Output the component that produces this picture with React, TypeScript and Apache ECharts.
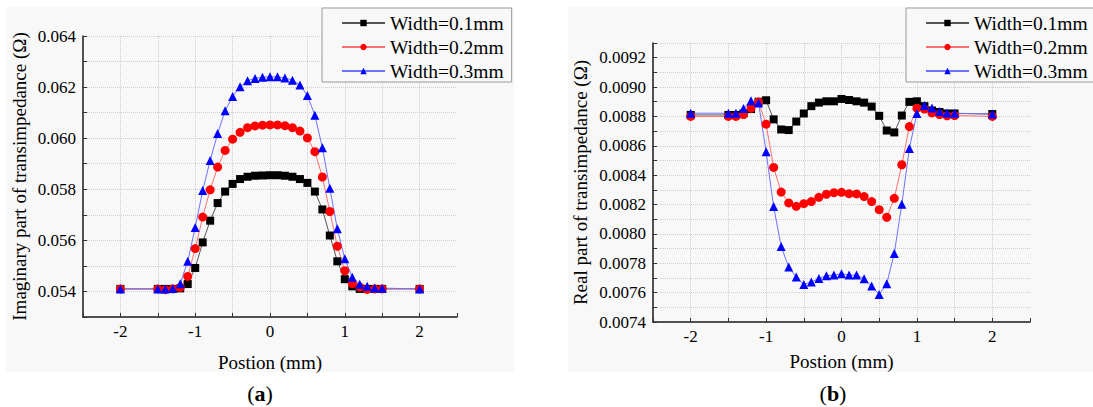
import React, { useEffect, useRef } from "react";
import * as echarts from "echarts";

const FONT = "'Liberation Serif', 'Times New Roman', serif";

const positions = [-2, -1.5, -1.4, -1.3, -1.2, -1.1, -1.0, -0.9, -0.8, -0.7, -0.6, -0.5, -0.4, -0.3, -0.2, -0.1, 0, 0.1, 0.2, 0.3, 0.4, 0.5, 0.6, 0.7, 0.8, 0.9, 1.0, 1.1, 1.2, 1.3, 1.4, 1.5, 2];

const seriesNames = ["Width=0.1mm", "Width=0.2mm", "Width=0.3mm"];

const imag01 = [0.0541, 0.0541, 0.0541, 0.0541, 0.05412, 0.05429, 0.05492, 0.05592, 0.05677, 0.05746, 0.05791, 0.05821, 0.0584, 0.05849, 0.05853, 0.05854, 0.05855, 0.05855, 0.05853, 0.05849, 0.0584, 0.05825, 0.05791, 0.05721, 0.05619, 0.05518, 0.05448, 0.0542, 0.0541, 0.0541, 0.0541, 0.0541, 0.0541];
const imag02 = [0.0541, 0.0541, 0.05407, 0.0541, 0.05416, 0.05459, 0.05568, 0.05691, 0.05798, 0.05887, 0.05952, 0.05996, 0.06023, 0.06041, 0.06048, 0.06051, 0.06052, 0.06052, 0.06049, 0.06041, 0.06028, 0.06001, 0.05947, 0.05848, 0.05713, 0.05577, 0.05481, 0.05431, 0.05417, 0.05408, 0.0541, 0.0541, 0.0541];
const imag03 = [0.0541, 0.0541, 0.0541, 0.05412, 0.0543, 0.05518, 0.0565, 0.05795, 0.05913, 0.06018, 0.06107, 0.06163, 0.06201, 0.06225, 0.06234, 0.06239, 0.0624, 0.0624, 0.06236, 0.06227, 0.06208, 0.06167, 0.0609, 0.05963, 0.05804, 0.05645, 0.05528, 0.05456, 0.05428, 0.0542, 0.05414, 0.05413, 0.0541];

const real01 = [0.00881, 0.00881, 0.00881, 0.00882, 0.00885, 0.0089, 0.00891, 0.00878, 0.008711, 0.008707, 0.008765, 0.00882, 0.00887, 0.008894, 0.008903, 0.008903, 0.008919, 0.008912, 0.008903, 0.008894, 0.008867, 0.008804, 0.008704, 0.008691, 0.008806, 0.008899, 0.008903, 0.00887, 0.00884, 0.00883, 0.00882, 0.00882, 0.008816];
const real02 = [0.0088, 0.0088, 0.0088, 0.008813, 0.008856, 0.008899, 0.008747, 0.008453, 0.008285, 0.008211, 0.008188, 0.008206, 0.00822, 0.008249, 0.00827, 0.008281, 0.008283, 0.008274, 0.008272, 0.008254, 0.00822, 0.008165, 0.008113, 0.008242, 0.008471, 0.008731, 0.008856, 0.00885, 0.008824, 0.008813, 0.008804, 0.008806, 0.0088];
const real03 = [0.008822, 0.008822, 0.008822, 0.008854, 0.008906, 0.008892, 0.008559, 0.008186, 0.007914, 0.007774, 0.007706, 0.007656, 0.007672, 0.007697, 0.007715, 0.00772, 0.007728, 0.00772, 0.00772, 0.007695, 0.007645, 0.007588, 0.00766, 0.007867, 0.008202, 0.008582, 0.00882, 0.008874, 0.008858, 0.008833, 0.008824, 0.008822, 0.008816];

const markerColors = ["#000000", "#ff0000", "#0000ff"];
const lineColors = ["#555555", "#ff7070", "#7070ff"];
const symbols = ["rect", "circle", "triangle"];
const symbolSizes = [8, 9, 9];

const tickRich = { t: { fontFamily: FONT, fontSize: 17, color: "#000" } };
const nameRich = { t: { fontFamily: FONT, fontSize: 19, color: "#000" } };

function makeSeries(values: number[][], gridIndex: number) {
  return values.map((arr, k) => ({
    type: "line",
    name: seriesNames[k],
    xAxisIndex: gridIndex,
    yAxisIndex: gridIndex,
    data: positions.map((x, i) => [x, arr[i]]),
    symbol: symbols[k],
    symbolSize: symbolSizes[k],
    showAllSymbol: true,
    itemStyle: { color: markerColors[k] },
    lineStyle: { color: lineColors[k], width: 1 },
    emphasis: { disabled: true },
  }));
}

function makeX(gridIndex: number, nameGap: number) {
  return {
    type: "value",
    gridIndex,
    min: -2.5,
    max: 2.5,
    interval: 0.5,
    name: "{t|Postion (mm)}",
    nameLocation: "middle",
    nameGap,
    nameTextStyle: { fontFamily: FONT, fontSize: 19, color: "#000", rich: nameRich },
    axisLine: { onZero: false, lineStyle: { color: "#1a1a1a", width: 1.5 } },
    axisTick: { inside: true, length: 4, lineStyle: { color: "#333" } },
    axisLabel: {
      margin: 6,
      fontFamily: FONT,
      fontSize: 17,
      color: "#000",
      rich: tickRich,
      formatter: (v: number) => (Math.abs(v - Math.round(v)) < 1e-9 ? "{t|" + String(Math.round(v)) + "}" : ""),
    },
    splitLine: {
      show: true,
      showMinLine: false,
      showMaxLine: false,
      lineStyle: { color: "#cccccc", type: "dotted", width: 1 },
    },
  };
}

function makeY(gridIndex: number, min: number, max: number, interval: number, digits: number, name: string, nameGap: number) {
  const f = Math.pow(10, digits);
  return {
    type: "value",
    gridIndex,
    min,
    max,
    interval,
    name: "{t|" + name + "}",
    nameLocation: "middle",
    nameGap,
    nameTextStyle: { fontFamily: FONT, fontSize: 19, color: "#000", rich: nameRich },
    axisLine: { show: true, onZero: false, lineStyle: { color: "#1a1a1a", width: 1.5 } },
    axisTick: { show: true, inside: true, length: 4, lineStyle: { color: "#333" } },
    axisLabel: {
      margin: 7,
      fontFamily: FONT,
      fontSize: 17,
      color: "#000",
      rich: tickRich,
      formatter: (v: number) => (Math.round(v * f) % 2 === 0 ? "{t|" + v.toFixed(digits) + "}" : ""),
    },
    splitLine: {
      show: true,
      showMinLine: false,
      lineStyle: { color: "#cccccc", type: "dotted", width: 1 },
    },
  };
}

function makeLegend(left: number) {
  return {
    orient: "vertical",
    left,
    top: 8,
    itemWidth: 43,
    itemHeight: 8,
    itemGap: 4,
    padding: [5, 8, 1, 19],
    borderColor: "#9a9a9a",
    borderWidth: 1,
    backgroundColor: "#f8f8f8",
    selectedMode: false,
    data: seriesNames,
    textStyle: { fontFamily: FONT, fontSize: 19.5, lineHeight: 20, color: "#000" },
  };
}

export default function App() {
  const ref = useRef<HTMLDivElement>(null);
  useEffect(() => {
    if (!ref.current) return;
    const chart = echarts.init(ref.current, undefined, { renderer: "svg" });
    const option = {
      animation: false,
      backgroundColor: "#ffffff",
      textStyle: { fontFamily: FONT },
      graphic: [
        { type: "rect", z: -100, shape: { x: 6, y: 7, width: 508, height: 365 }, style: { fill: "#f8f8f8" }, silent: true },
        { type: "rect", z: -100, shape: { x: 568, y: 7, width: 530, height: 365 }, style: { fill: "#f8f8f8" }, silent: true },
        {
          type: "text",
          x: 260,
          y: 393,
          style: {
            text: "{n|(}{b|a}{n|)}",
            align: "center",
            verticalAlign: "middle",
            rich: {
              n: { fontFamily: FONT, fontSize: 22, color: "#000" },
              b: { fontFamily: FONT, fontSize: 22, fontWeight: "bold", color: "#000" },
            },
          },
        },
        {
          type: "text",
          x: 833,
          y: 393,
          style: {
            text: "{n|(}{b|b}{n|)}",
            align: "center",
            verticalAlign: "middle",
            rich: {
              n: { fontFamily: FONT, fontSize: 22, color: "#000" },
              b: { fontFamily: FONT, fontSize: 22, fontWeight: "bold", color: "#000" },
            },
          },
        },
      ],
      legend: [makeLegend(322), makeLegend(906)],
      grid: [
        { left: 83, top: 36, width: 374, height: 281 },
        { left: 653, top: 43, width: 377, height: 279 },
      ],
      xAxis: [makeX(0, 36), makeX(1, 30)],
      yAxis: [
        makeY(0, 0.053, 0.064, 0.001, 3, "Imaginary part of transimpedance (Ω)", 54),
        makeY(1, 0.0074, 0.0093, 0.0001, 4, "Real part of transimpedance (Ω)", 63),
      ],
      series: [...makeSeries([imag01, imag02, imag03], 0), ...makeSeries([real01, real02, real03], 1)],
    };
    chart.setOption(option as any);
    return () => chart.dispose();
  }, []);
  return (
    <div
      ref={ref}
      style={{ position: "fixed", left: 0, top: 0, width: 1093, height: 407 }}
    />
  );
}
